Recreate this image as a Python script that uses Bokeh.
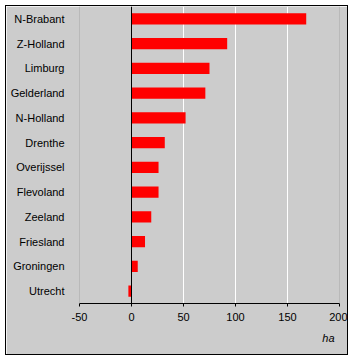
from bokeh.plotting import figure
from bokeh.models import FactorRange, Range1d, FixedTicker, Span, Title
from bokeh.embed import file_html
from bokeh.resources import INLINE

provinces = ["N-Brabant", "Z-Holland", "Limburg", "Gelderland", "N-Holland", "Drenthe",
             "Overijssel", "Flevoland", "Zeeland", "Friesland", "Groningen", "Utrecht"]
values = [168, 92, 75, 71, 52, 32, 26, 26, 19, 13, 6, -3]
x_ticks = [-50, 0, 50, 100, 150, 200]
unit_label = "ha"

FONT = "Liberation Sans"
BG = "#CCCCCC"

p = figure(width=343, height=350, output_backend="svg", toolbar_location=None,
           y_range=FactorRange(factors=list(reversed(provinces)), range_padding=0),
           x_range=Range1d(-50, 200),
           min_border_left=73, min_border_right=10, min_border_top=0, min_border_bottom=53)
p.styles = {"margin-left": "5px", "margin-top": "5px", "border": "1px solid black"}

p.background_fill_color = BG
p.border_fill_color = BG
p.outline_line_color = None

p.hbar(y=provinces, right=values, left=0, height=0.45, color="#FF0000", line_color=None)

# grid
p.ygrid.grid_line_color = None
p.xgrid.ticker = FixedTicker(ticks=[50, 100, 150])
p.xgrid.grid_line_color = "white"
p.xgrid.grid_line_width = 1
for loc in (-50, 200):
    p.add_layout(Span(location=loc, dimension="height", line_color="#999999", line_width=1))
p.add_layout(Span(location=0, dimension="height", line_color="black", line_width=1))

# x axis
xa = p.xaxis[0]
xa.ticker = FixedTicker(ticks=x_ticks)
xa.major_label_overrides = {t: str(t) for t in x_ticks}
xa.minor_tick_line_color = None
xa.major_tick_in = 0
xa.major_tick_out = 3
xa.axis_line_color = "black"
xa.major_tick_line_color = "black"
xa.major_label_text_font = FONT
xa.major_label_text_font_size = "11px"
xa.major_label_text_color = "black"
xa.major_label_standoff = 6

# y axis
ya = p.yaxis[0]
ya.axis_line_color = None
ya.major_tick_line_color = None
ya.minor_tick_line_color = None
ya.major_tick_out = 0
ya.major_tick_in = 0
ya.major_label_standoff = 15
ya.major_label_text_font = FONT
ya.major_label_text_font_size = "11px"
ya.major_label_text_color = "black"

t = Title(text=unit_label, align="right", text_font=FONT, text_font_size="11px",
          text_font_style="italic", text_color="black", offset=5, standoff=13)
p.add_layout(t, "below")

open("out.html", "w").write(file_html(p, INLINE))
